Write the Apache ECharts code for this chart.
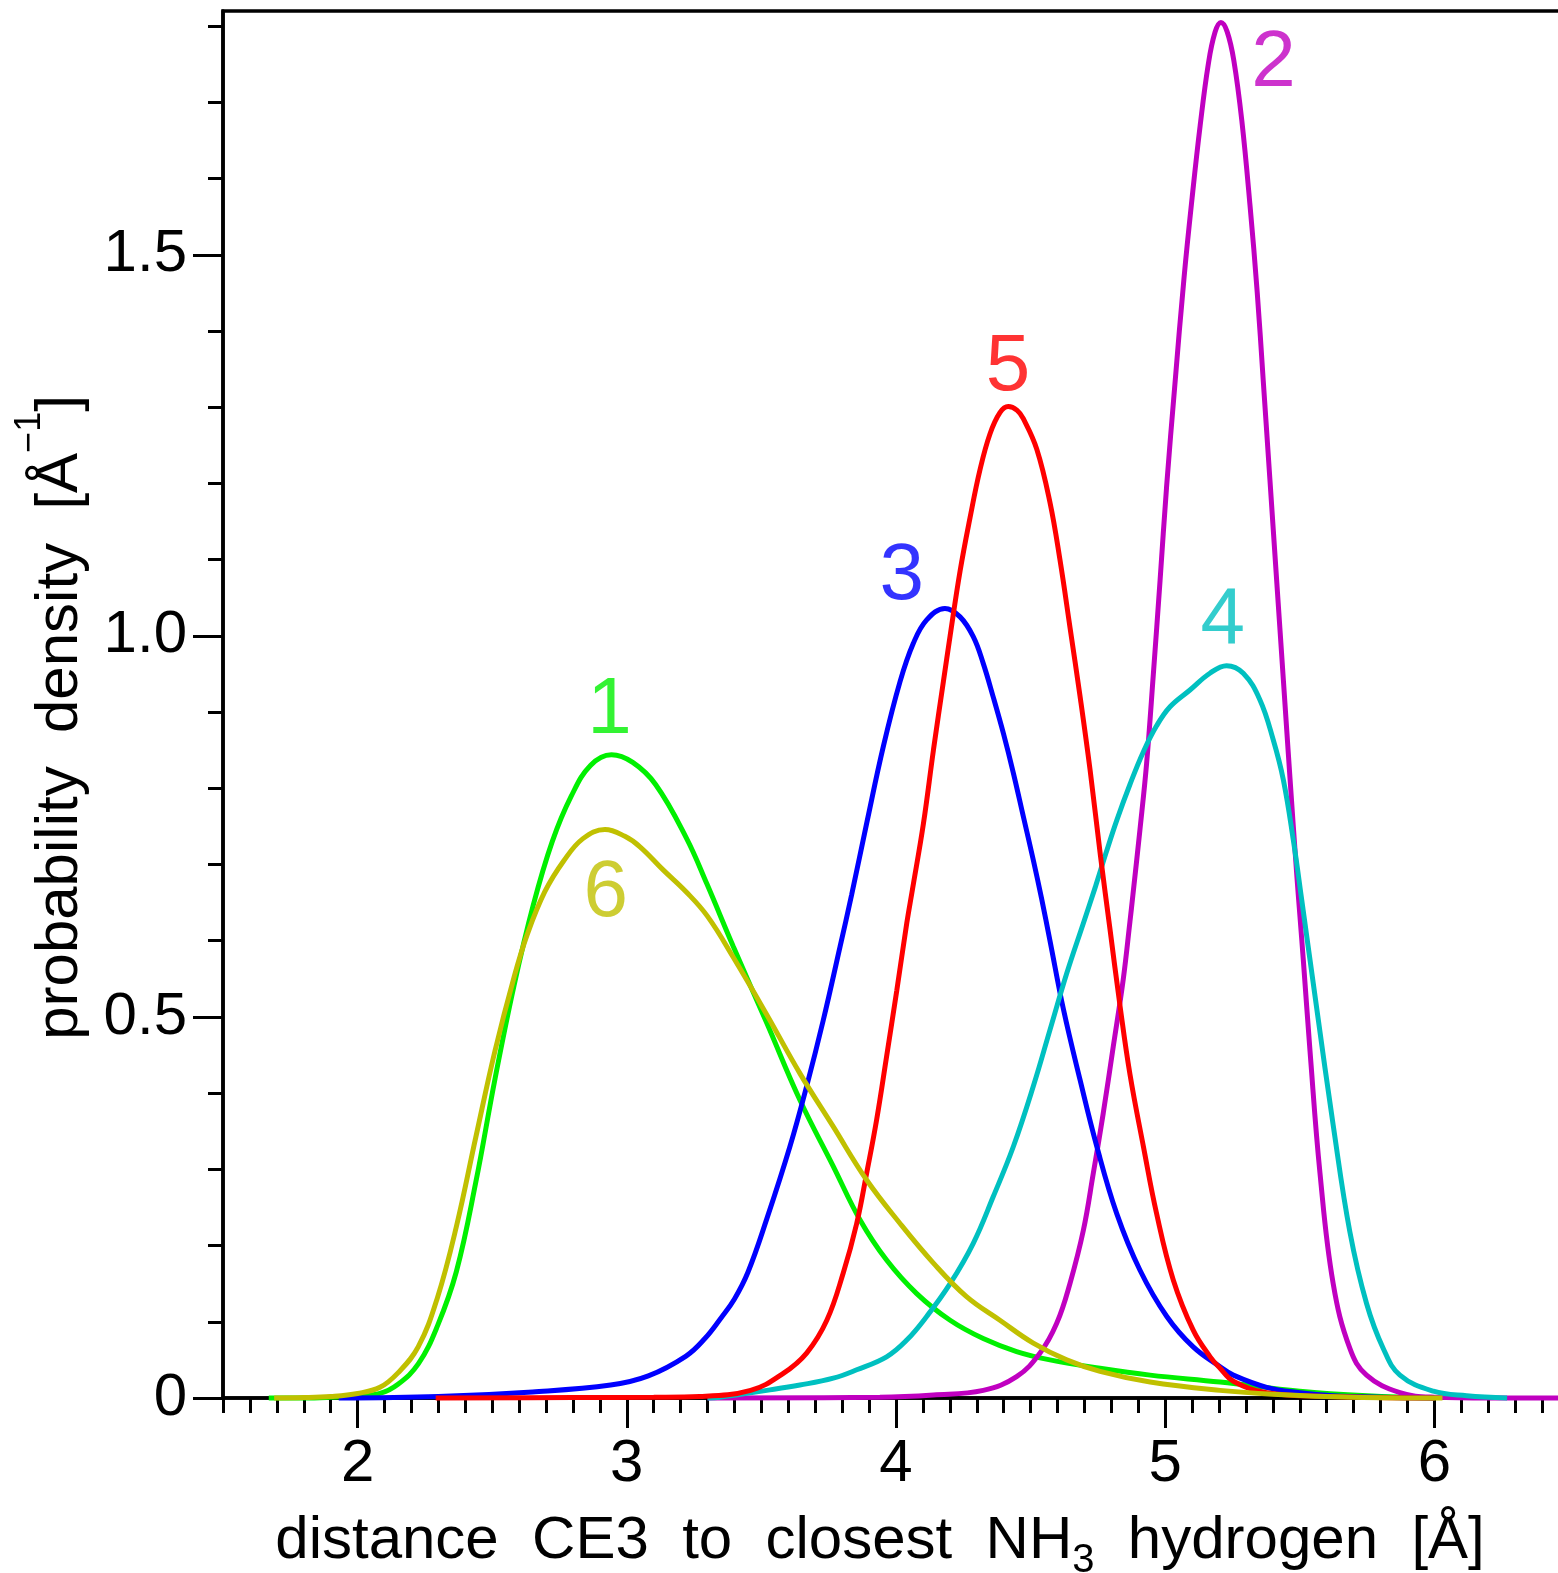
<!DOCTYPE html>
<html>
<head>
<meta charset="utf-8">
<script src="https://cdn.jsdelivr.net/npm/echarts@6/dist/echarts.min.js"></script>
<style>
html,body{margin:0;padding:0;background:#ffffff;}
#chart{width:1558px;height:1573px;}
</style>
</head>
<body>
<div id="chart"></div>
<script>
// ---- data: [distance (Å), probability density (1/Å)] ----
const curve1 = [[1.67,0],[1.8,0],[1.9,0.001],[2.0,0.003],[2.083,0.006],[2.15,0.018],[2.226,0.045],[2.296,0.094],[2.367,0.166],[2.439,0.283],[2.51,0.418],[2.581,0.541],[2.652,0.646],[2.723,0.73],[2.794,0.79],[2.865,0.83],[2.943,0.844],[3.022,0.834],[3.107,0.805],[3.221,0.735],[3.297,0.675],[3.396,0.592],[3.52,0.492],[3.643,0.391],[3.767,0.304],[3.866,0.234],[3.965,0.181],[4.077,0.137],[4.201,0.102],[4.324,0.078],[4.448,0.061],[4.572,0.05],[4.758,0.039],[4.944,0.03],[5.204,0.021],[5.5,0.009],[5.75,0.003],[6.0,0]];
const curve2 = [[3.3,0],[3.94,0.001],[4.139,0.004],[4.324,0.01],[4.448,0.028],[4.535,0.059],[4.597,0.098],[4.646,0.15],[4.696,0.22],[4.733,0.295],[4.77,0.374],[4.807,0.461],[4.844,0.549],[4.869,0.625],[4.88,0.66],[4.906,0.745],[4.931,0.833],[4.956,0.95],[4.981,1.073],[5.005,1.195],[5.036,1.33],[5.07,1.47],[5.10,1.575],[5.13,1.67],[5.16,1.75],[5.185,1.792],[5.207,1.805],[5.23,1.793],[5.255,1.755],[5.285,1.675],[5.315,1.565],[5.342,1.45],[5.364,1.336],[5.389,1.205],[5.414,1.073],[5.439,0.942],[5.464,0.811],[5.488,0.69],[5.501,0.63],[5.513,0.575],[5.538,0.455],[5.575,0.295],[5.624,0.15],[5.686,0.065],[5.748,0.03],[5.872,0.007],[6.0,0.001],[6.2,0],[6.5,0]];
const curve3 = [[1.93,0],[2.3,0.002],[2.65,0.008],[2.94,0.017],[3.08,0.029],[3.22,0.055],[3.29,0.078],[3.35,0.105],[3.40,0.13],[3.45,0.165],[3.52,0.235],[3.606,0.33],[3.668,0.409],[3.73,0.496],[3.792,0.592],[3.835,0.66],[3.891,0.754],[3.953,0.855],[4.015,0.94],[4.064,0.99],[4.114,1.021],[4.182,1.036],[4.238,1.025],[4.287,0.999],[4.324,0.964],[4.361,0.92],[4.399,0.872],[4.436,0.82],[4.473,0.763],[4.51,0.706],[4.541,0.655],[4.572,0.60],[4.622,0.51],[4.684,0.417],[4.746,0.33],[4.82,0.242],[4.906,0.168],[5.006,0.107],[5.104,0.067],[5.204,0.041],[5.253,0.03],[5.377,0.014],[5.5,0.007],[5.624,0.003],[5.8,0.001],[6.0,0]];
const curve4 = [[3.3,0],[3.346,0.001],[3.52,0.01],[3.643,0.017],[3.767,0.026],[3.854,0.037],[3.965,0.054],[4.04,0.076],[4.114,0.107],[4.201,0.15],[4.287,0.203],[4.361,0.264],[4.436,0.33],[4.51,0.409],[4.572,0.483],[4.634,0.557],[4.696,0.623],[4.74,0.67],[4.78,0.715],[4.82,0.758],[4.869,0.805],[4.919,0.848],[4.968,0.882],[5.018,0.907],[5.092,0.929],[5.166,0.951],[5.228,0.961],[5.29,0.951],[5.352,0.916],[5.401,0.864],[5.439,0.811],[5.476,0.732],[5.507,0.654],[5.563,0.511],[5.624,0.358],[5.686,0.218],[5.748,0.124],[5.81,0.065],[5.872,0.03],[5.996,0.009],[6.12,0.003],[6.27,0]];
const curve5 = [[2.29,0],[2.8,0.0005],[3.1,0.001],[3.27,0.002],[3.46,0.01],[3.58,0.032],[3.668,0.059],[3.743,0.102],[3.804,0.164],[3.854,0.229],[3.891,0.295],[3.928,0.365],[3.965,0.448],[4.003,0.535],[4.04,0.623],[4.061,0.667],[4.102,0.754],[4.139,0.85],[4.176,0.94],[4.201,1.0],[4.238,1.085],[4.275,1.155],[4.312,1.218],[4.349,1.265],[4.386,1.293],[4.417,1.301],[4.45,1.296],[4.473,1.285],[4.523,1.245],[4.572,1.175],[4.609,1.1],[4.646,1.012],[4.684,0.92],[4.721,0.824],[4.76,0.71],[4.795,0.615],[4.832,0.515],[4.869,0.425],[4.919,0.33],[4.968,0.242],[5.03,0.155],[5.104,0.089],[5.167,0.054],[5.204,0.039],[5.253,0.022],[5.377,0.007],[5.6,0.002],[6.0,0]];
const curve6 = [[1.69,0],[1.8,0.0005],[1.9,0.002],[2.0,0.006],[2.083,0.014],[2.15,0.033],[2.225,0.067],[2.296,0.131],[2.367,0.225],[2.439,0.342],[2.51,0.455],[2.581,0.552],[2.63,0.608],[2.695,0.664],[2.766,0.705],[2.837,0.734],[2.919,0.746],[2.993,0.737],[3.05,0.723],[3.135,0.693],[3.221,0.664],[3.3,0.632],[3.396,0.578],[3.52,0.503],[3.643,0.426],[3.767,0.356],[3.891,0.286],[4.015,0.229],[4.139,0.177],[4.262,0.133],[4.386,0.102],[4.51,0.072],[4.634,0.05],[4.758,0.035],[4.944,0.021],[5.204,0.01],[5.4,0.005],[5.7,0.001],[6.03,0]];

const curveNames = ['1','2','3','4','5','6'];
const peakLabelX = [2.936, 5.402, 4.021, 5.214, 4.416, 2.922];
const peakLabelY = [0.901, 1.750, 1.078, 1.019, 1.352, 0.661];

const xMajorTicks = [2, 3, 4, 5, 6];
const yMajorTicks = [0, 0.5, 1.0, 1.5];
const yTickLabels = ['0', '0.5', '1.0', '1.5'];
const xMinorTicks = [];
for (let i = 15; i <= 65; i++) xMinorTicks.push(i / 10);
const yMinorTicks = [];
for (let i = 0; i <= 18; i++) yMinorTicks.push(i / 10);

// ---- styling ----
const FONT = '"Liberation Sans", Arial, Helvetica, sans-serif';
const colors = ['#00f000', '#c000c0', '#0000ff', '#00c0c0', '#ff0000', '#c0c000'];
const curves = [curve1, curve2, curve3, curve4, curve5, curve6];

const chart = echarts.init(document.getElementById('chart'), null, {renderer: 'canvas', width: 1558, height: 1573});

const lineSeries = curves.map((data, i) => ({
  name: curveNames[i],
  type: 'line',
  data: data,
  xAxisIndex: 0,
  yAxisIndex: 0,
  showSymbol: false,
  symbol: 'none',
  smooth: 0.4,
  clip: false,
  silent: true,
  lineStyle: {color: colors[i], width: 5},
  itemStyle: {color: colors[i]},
  z: 3
}));

const labelSeries = {
  type: 'scatter',
  xAxisIndex: 0,
  yAxisIndex: 0,
  symbolSize: 0,
  silent: true,
  z: 4,
  data: curveNames.map((t, i) => ({
    value: [peakLabelX[i], peakLabelY[i]],
    label: {show: true, position: 'inside', formatter: t, color: colors[i], fontSize: 80, fontFamily: FONT}
  }))
};

const option = {
  animation: false,
  backgroundColor: '#ffffff',
  grid: {left: 223, right: -11, top: 11, bottom: 175, show: true, borderColor: '#000', borderWidth: 3.5,
         backgroundColor: 'transparent', containLabel: false, outerBoundsMode: 'none'},
  xAxis: [
    {
      type: 'value', min: 1.5, max: 6.5, position: 'bottom',
      axisLine: {show: true, onZero: false, lineStyle: {color: '#000', width: 3.5}},
      axisTick: {show: true, customValues: xMajorTicks, length: 30, lineStyle: {color: '#000', width: 3}},
      axisLabel: {show: true, customValues: xMajorTicks, margin: 36, fontSize: 60, color: '#000', fontFamily: FONT, formatter: v => String(v)},
      splitLine: {show: false},
      name: '{a|distance  CE3  to  closest  NH}{sub|3}{a|  hydrogen  [Å]}',
      nameLocation: 'middle',
      nameGap: 113,
      nameMoveOverlap: false,
      nameTextStyle: {
        color: '#000', fontFamily: FONT, fontSize: 60, padding: [0, 32, 0, 0],
        rich: {
          a: {fontSize: 60, lineHeight: 60, color: '#000', fontFamily: FONT},
          sub: {fontSize: 40, lineHeight: 40, padding: [40, 0, 0, 0], color: '#000', fontFamily: FONT}
        }
      }
    },
    {
      type: 'value', min: 1.5, max: 6.5, position: 'bottom',
      axisLine: {show: false},
      axisTick: {show: true, customValues: xMinorTicks, length: 15, lineStyle: {color: '#000', width: 3}},
      axisLabel: {show: false},
      splitLine: {show: false}
    }
  ],
  yAxis: [
    {
      type: 'value', min: 0, max: 1.82, position: 'left',
      axisLine: {show: true, onZero: false, lineStyle: {color: '#000', width: 3.5}},
      axisTick: {show: true, customValues: yMajorTicks, length: 30, lineStyle: {color: '#000', width: 3}},
      axisLabel: {show: true, customValues: yMajorTicks, margin: 36, fontSize: 60, color: '#000', fontFamily: FONT,
        formatter: v => { const k = yMajorTicks.findIndex(t => Math.abs(t - v) < 1e-6); return k >= 0 ? yTickLabels[k] : ''; }},
      splitLine: {show: false},
      name: '{a|probability  density  [Å}{sup|−1}{a|]}',
      nameLocation: 'middle',
      nameGap: 133,
      nameMoveOverlap: false,
      nameTextStyle: {
        color: '#000', fontFamily: FONT, fontSize: 60, padding: [0, 26, 0, 0],
        rich: {
          a: {fontSize: 60, lineHeight: 60, color: '#000', fontFamily: FONT},
          sup: {fontSize: 36, lineHeight: 36, padding: [0, 0, 60, 0], color: '#000', fontFamily: FONT}
        }
      }
    },
    {
      type: 'value', min: 0, max: 1.82, position: 'left',
      axisLine: {show: false},
      axisTick: {show: true, customValues: yMinorTicks, length: 15, lineStyle: {color: '#000', width: 3}},
      axisLabel: {show: false},
      splitLine: {show: false}
    }
  ],
  series: lineSeries.concat([labelSeries])
};

chart.setOption(option);
</script>
</body>
</html>
